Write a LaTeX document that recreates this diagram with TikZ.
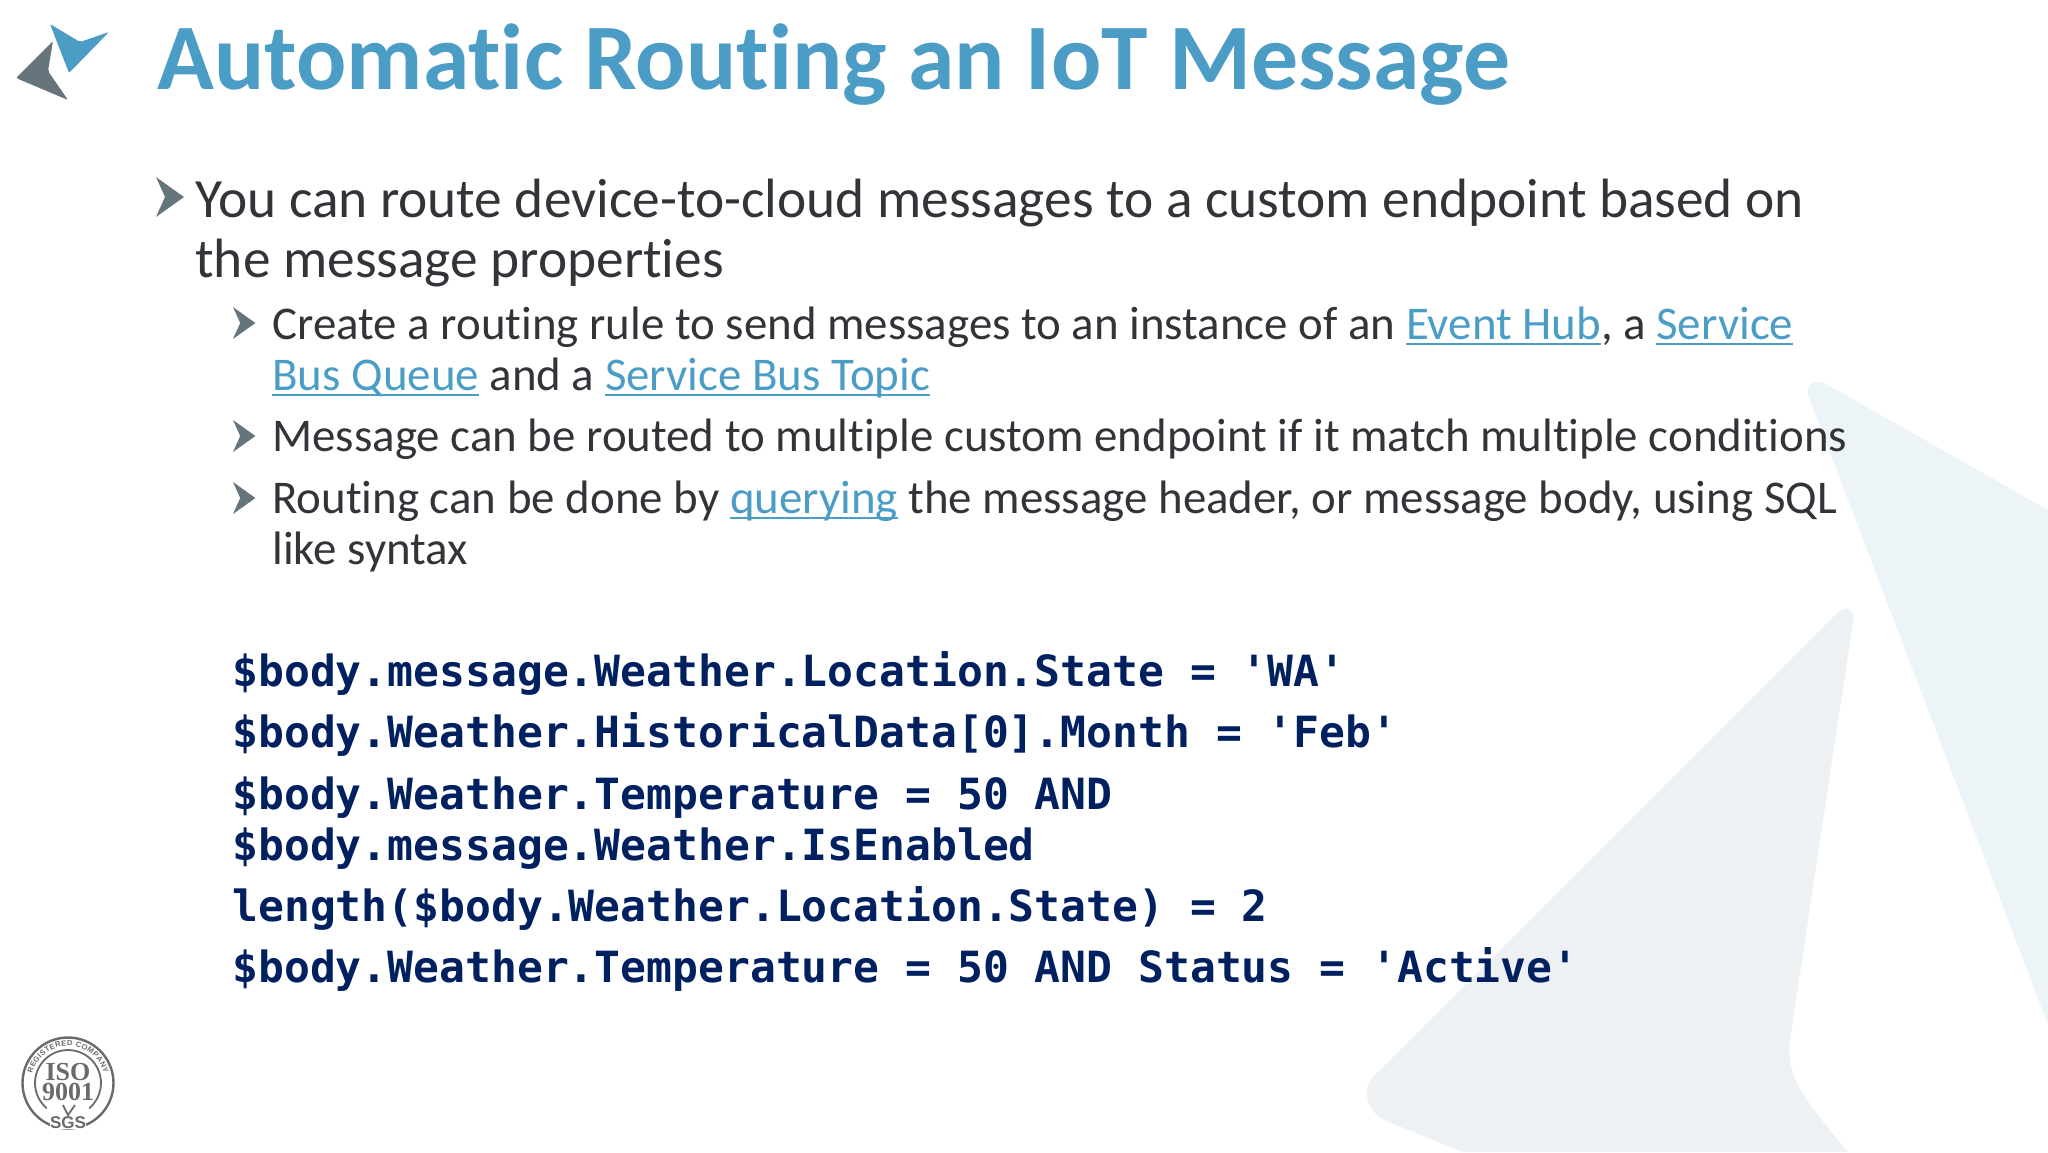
\documentclass[tikz,border=0pt]{standalone}
\usepackage{fontspec}
\setmainfont{Carlito}[Ligatures=CommonOff]
\newfontfamily\codefont{DejaVu Sans Mono}
\newfontfamily\isofont{Liberation Serif}
\newfontfamily\sgsfont{Liberation Sans}
\usetikzlibrary{decorations.text}

\definecolor{brandblue}{HTML}{4C9DC6}
\definecolor{brandgray}{HTML}{66747C}
\definecolor{bodytext}{HTML}{333339}
\definecolor{codenavy}{HTML}{002060}
\definecolor{shapeblue}{HTML}{EDF4F7}
\definecolor{shapegray}{HTML}{EEF1F4}
\definecolor{isogray}{HTML}{6A6A6A}

\newsavebox{\lnkbox}
\newcommand{\lnk}[1]{\sbox{\lnkbox}{#1}\textcolor{brandblue}{\rlap{\rule[-3pt]{\wd\lnkbox}{1pt}}#1}}
\newcommand{\chevron}[3]{\fill [brandgray] (#1,#2) -- ++(#3*28,#3*20) -- ++(-#3*28,#3*20) -- ++(#3*9,-#3*20) -- cycle;}

\tikzset{
	titletext/.style={anchor=base west, inner sep=0, text=brandblue, font=\fontsize{46.9}{48}\selectfont\bfseries},
	maintext/.style={anchor=base west, inner sep=0, align=left, text=bodytext, font=\fontsize{27.7}{30}\selectfont},
	subtext/.style={anchor=base west, inner sep=0, align=left, text=bodytext, font=\fontsize{23.45}{25.5}\selectfont},
	codetext/.style={anchor=base west, inner sep=0, align=left, text=codenavy, font=\fontsize{21.5}{25.5}\selectfont\codefont\bfseries},
}

\begin{document}
\begin{tikzpicture}[x=0.5pt, y=-0.5pt]
	\useasboundingbox (0,0) rectangle (2048,1152);

	% background shapes
	\fill [shapeblue] (1808,395) .. controls (1806,383) and (1815,378) .. (1826,384) -- (2048,510) -- (2048,1025) -- cycle;
	\fill [shapegray] (1839,611) .. controls (1846,606) and (1855,608) .. (1853,622) -- (1790,1040) .. controls (1786,1075) and (1800,1095) .. (1848,1152) -- (1463,1152) -- (1384,1120) .. controls (1365,1110) and (1360,1085) .. (1378,1072) -- cycle;

	% logo
	\fill [brandblue, rounded corners=1] (50,24) -- (80,42) -- (109,32) -- (69,73) -- cycle;
	\fill [brandgray, rounded corners=1] (53,41) -- (48,71) -- (68,100) -- (16,78) -- cycle;

	\node [titletext] (title) at (157,89) {Automatic Routing an IoT Message};

	% bullets
	\chevron{156}{177}{1}
	\foreach \y in {307,420,482} {
		\chevron{233}{\y}{0.8}
	}

	\node [maintext] (first) at (195,277) {You can route device-to-cloud messages to a custom endpoint based on\\the message properties};
	\node [subtext] (rule) at (272,390) {Create a routing rule to send messages to an instance of an \lnk{Event Hub}, a \lnk{Service}\\\lnk{Bus Queue} and a \lnk{Service Bus Topic}};
	\node [subtext] (multi) at (272,451) {Message can be routed to multiple custom endpoint if it match multiple conditions};
	\node [subtext] (query) at (272,564) {Routing can be done by \lnk{querying} the message header, or message body, using SQL\\like syntax};

	% code lines
	\node [codetext] (state) at (232,686) {\$body.message.Weather.Location.State = 'WA'};
	\node [codetext] (month) at (232,747) {\$body.Weather.HistoricalData[0].Month = 'Feb'};
	\node [codetext] (enabled) at (232,860) {\$body.Weather.Temperature = 50 AND\\\$body.message.Weather.IsEnabled};
	\node [codetext] (length) at (232,921) {length(\$body.Weather.Location.State) = 2};
	\node [codetext] (active) at (232,982) {\$body.Weather.Temperature = 50 AND Status = 'Active'};

	% iso stamp
	\begin{scope}[isogray]
		\draw [line width=1.2pt] (68,1083) circle (45.5);
		\draw [line width=0.9pt] (46.8,1108.3) arc (130:410:33);
		\path [decorate, decoration={text along path, text align=fit to path,
			text={|\fontsize{3.8}{4}\selectfont\sgsfont\bfseries\color{isogray}|REGISTERED COMPANY}}]
			(32.3,1073.4) arc (195:345:37);
		\node [inner sep=0, text=isogray, font=\fontsize{13}{13}\selectfont\isofont\bfseries] (iso) at (68,1072) {ISO};
		\node [inner sep=0, text=isogray, font=\fontsize{13}{13}\selectfont\isofont\bfseries] (nine) at (68,1092) {9001};
		\draw [line width=0.9pt] (63,1105) -- (68,1115) -- (75,1105);
		\node [inner sep=0, fill=white, text=isogray, font=\fontsize{8.5}{8.5}\selectfont\sgsfont\bfseries] (sgs) at (68,1123) {SGS};
	\end{scope}
\end{tikzpicture}
\end{document}
